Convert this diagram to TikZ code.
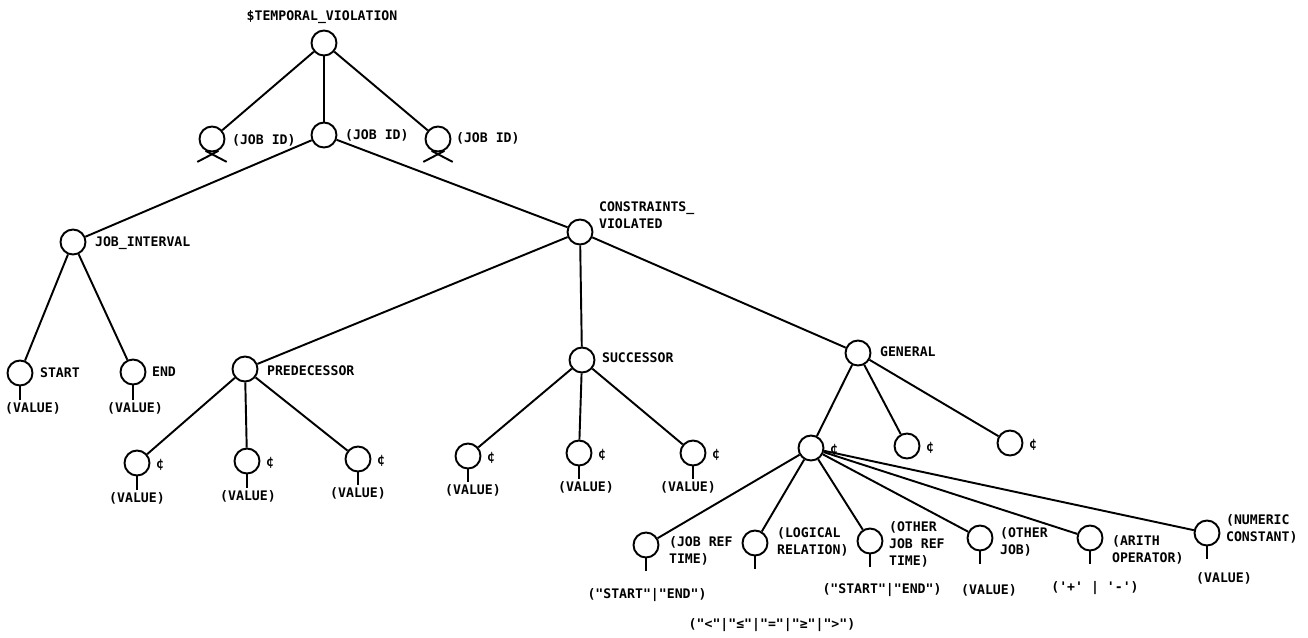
\documentclass[tikz,border=0pt]{standalone}
\usepackage{fontspec}
\setmonofont{DejaVu Sans Mono}
\usetikzlibrary{positioning}
\tikzset{
  vtx/.style={circle,draw,line width=1.1pt,minimum size=0.5cm,inner sep=0pt},
  lbl/.style={font=\ttfamily\bfseries\fontsize{7.5}{9.6}\selectfont,inner sep=1pt,align=left},
  branch/.style={line width=1.1pt},
}

\begin{document}
\begin{tikzpicture}[x=0.02cm,y=-0.02cm]
  \useasboundingbox (0,0) rectangle (1308,637);

  % top of the tree
  \node[vtx] (root) at (324,43) {};
  \node[lbl] (rootname) at (322,17) {\$TEMPORAL\_VIOLATION};
  \node[vtx] (jidl) at (212,139) {};
  \node[vtx] (jidm) at (324,135) {};
  \node[vtx] (jidr) at (438,139) {};
  \node[lbl,anchor=west] (jidlname) at (230,140) {(JOB ID)};
  \node[lbl,anchor=west] (jidmname) at (343,135) {(JOB ID)};
  \node[lbl,anchor=west] (jidrname) at (454,138) {(JOB ID)};
  % crossed legs
  \foreach \n in {jidl,jidr} {
    \draw[branch] (\n.-62) -- ++(-21,11);
    \draw[branch] (\n.-118) -- ++(21,11);
  }

  % second level
  \node[vtx] (jint) at (73,242) {};
  \node[lbl,anchor=west] (jintname) at (93,243) {JOB\_INTERVAL};
  \node[vtx] (cons) at (580,232) {};
  \node[lbl,anchor=west] (consname) at (597,215) {CONSTRAINTS\_\\VIOLATED};

  \node[vtx] (start) at (20,373) {};
  \node[lbl,anchor=west] (startname) at (38,373) {START};
  \node[vtx] (endn) at (133,372) {};
  \node[lbl,anchor=west] (endname) at (150,372) {END};
  \node[lbl] (vstart) at (33,408) {(VALUE)};
  \node[lbl] (vendn) at (135,408) {(VALUE)};

  \node[vtx] (pred) at (245,369) {};
  \node[lbl,anchor=west] (predname) at (265,371) {PREDECESSOR};
  \node[vtx] (succ) at (582,360) {};
  \node[lbl,anchor=west] (succname) at (600,358) {SUCCESSOR};
  \node[vtx] (gen) at (858,353) {};
  \node[lbl,anchor=west] (genname) at (878,352) {GENERAL};

  % cent nodes
  \foreach \n/\x/\y in {p1/137/463, p2/247/461, p3/358/459,
                        s1/468/456, s2/579/453, s3/693/453,
                        g1/811/448, g2/907/446, g3/1010/443} {
    \node[vtx] (\n) at (\x,\y) {};
    \node[lbl,anchor=west] at ([xshift=2pt,yshift=-1pt]\n.east) {¢};
  }
  \foreach \n/\x/\y in {p1/137/498, p2/248/496, p3/358/493,
                        s1/473/490, s2/586/487, s3/688/487} {
    \node[lbl] (v\n) at (\x,\y) {(VALUE)};
  }
  \foreach \n in {start,endn,p1,p2,p3,s1,s2,s3} {
    \draw[branch] (\n.south) -- (\n.south |- v\n.north);
  }

  % bottom row
  \node[vtx] (r1) at (646,545) {};
  \node[vtx] (r2) at (755,543) {};
  \node[vtx] (r3) at (870,541) {};
  \node[vtx] (r4) at (980,538) {};
  \node[vtx] (r5) at (1090,538) {};
  \node[vtx] (r6) at (1207,533) {};
  \foreach \n in {r1,r2,r3,r4,r5,r6} {
    \draw[branch] (\n.south) -- ++(0,13);
  }
  \node[lbl,anchor=west] (r1name) at (667,551) {(JOB REF\\TIME)};
  \node[lbl,anchor=west] (r2name) at (775,542) {(LOGICAL\\RELATION)};
  \node[lbl,anchor=west] (r3name) at (887,544) {(OTHER\\JOB REF\\TIME)};
  \node[lbl,anchor=west] (r4name) at (998,542) {(OTHER\\JOB)};
  \node[lbl,anchor=west] (r5name) at (1110,550) {(ARITH\\OPERATOR)};
  \node[lbl,anchor=west] (r6name) at (1224,529) {(NUMERIC\\CONSTANT)};

  \node[lbl] (vr1) at (647,595) {("START"|"END")};
  \node[lbl] (vr2) at (772,625) {("<"|"≤"|"="|"≥"|">")};
  \node[lbl] (vr3) at (882,590) {("START"|"END")};
  \node[lbl] (vr4) at (989,590) {(VALUE)};
  \node[lbl] (vr5) at (1095,588) {('+' | '-')};
  \node[lbl] (vr6) at (1224,578) {(VALUE)};

  % connectors
  \foreach \a/\b in {root/jidl, root/jidm, root/jidr, jidm/jint, jidm/cons,
                     jint/start, jint/endn, cons/pred, cons/succ, cons/gen,
                     pred/p1, pred/p2, pred/p3, succ/s1, succ/s2, succ/s3,
                     gen/g1, gen/g2, gen/g3,
                     g1/r1, g1/r2, g1/r3, g1/r4, g1/r5, g1/r6} {
    \draw[branch] (\a) -- (\b);
  }
\end{tikzpicture}
\end{document}
